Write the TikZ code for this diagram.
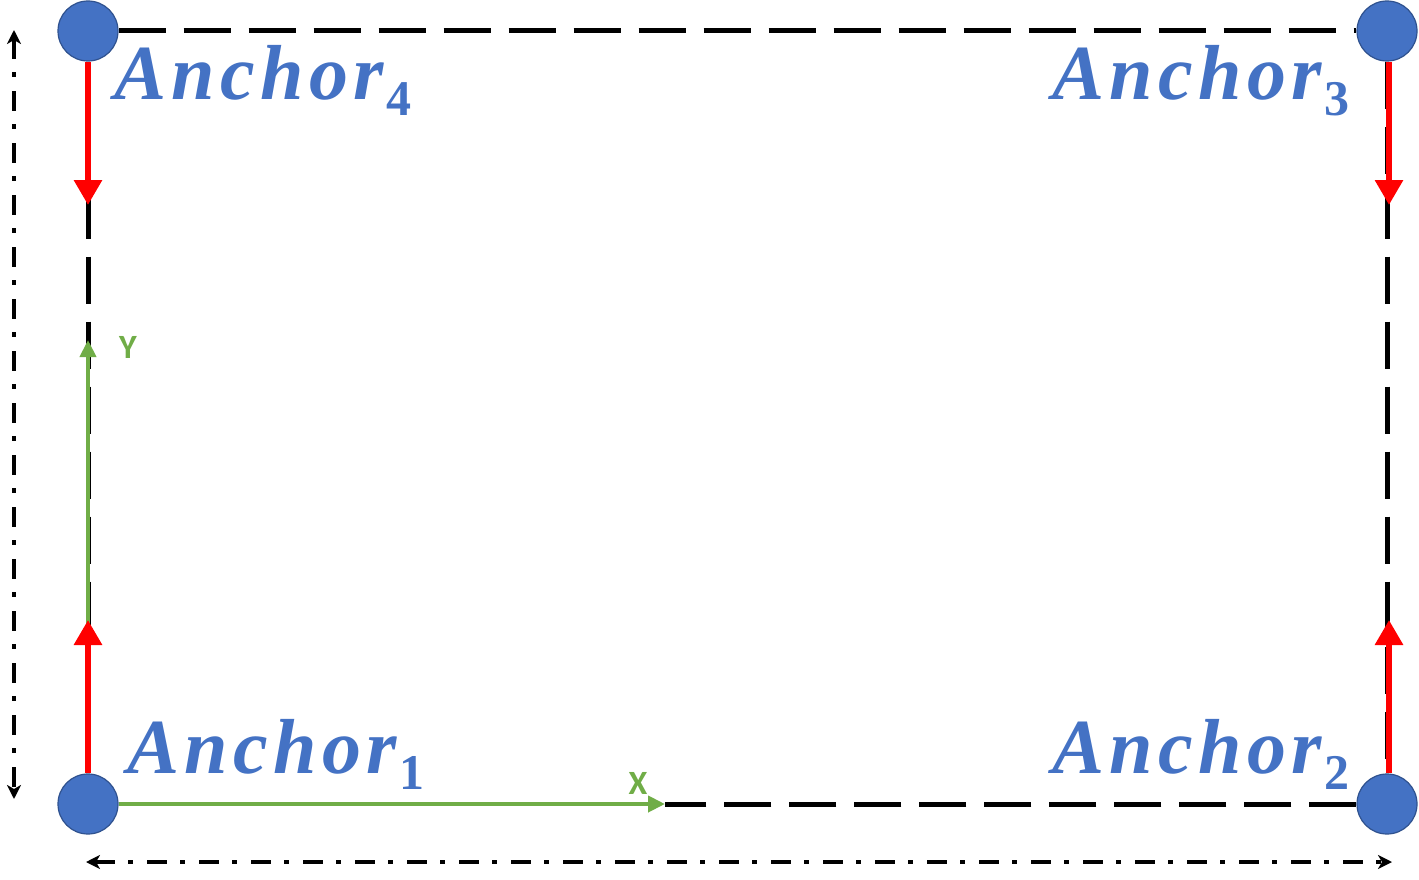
\documentclass[tikz,border=0pt]{standalone}
\usepackage{fontspec}
\setmainfont{Liberation Serif}
\newfontfamily\anchorfont[LetterSpace=7]{Liberation Serif}
\newfontfamily\axfont{Carlito}
\usetikzlibrary{arrows.meta}
\definecolor{ablue}{HTML}{4472C4}
\definecolor{aedge}{HTML}{2F528F}
\definecolor{ared}{HTML}{FF0000}
\definecolor{agreen}{HTML}{70AD47}
\pgfdeclarelayer{bg}
\pgfsetlayers{bg,main}
\tikzset{
  anchorpt/.style={circle, fill=ablue, draw=aedge, line width=1.2pt, minimum size=60pt, inner sep=0pt},
  frame/.style={black, line width=5pt, dash pattern=on 47pt off 18pt},
  redarrow/.style={ared, line width=6pt, -{Triangle[width=27pt,length=25pt]}},
  greenarrow/.style={agreen, line width=4pt, -{Triangle[width=16pt,length=17pt]}},
  dimline/.style={black, line width=4pt, dash pattern=on 20pt off 13pt on 5pt off 14pt, {Stealth[width=14pt,length=14pt,inset=4pt]}-{Stealth[width=14pt,length=14pt,inset=4pt]}},
  lbl/.style={text=ablue, inner sep=0pt, anchor=base west},
  axlbl/.style={text=agreen, inner sep=0pt, font=\axfont\bfseries\fontsize{34}{36}\selectfont}
}
\newcommand{\anchorlbl}[1]{{\anchorfont\fontsize{78}{90}\selectfont\bfseries\itshape Anchor}\hspace{2pt}\raisebox{-16pt}{\fontsize{50}{52}\selectfont\bfseries #1}}
\begin{document}
\begin{tikzpicture}[x=1pt,y=-1pt]
\useasboundingbox (0,0) rectangle (1419,880);
% anchors
\node[anchorpt] (a4) at (88,31) {};
\node[anchorpt] (a3) at (1387,31) {};
\node[anchorpt] (a1) at (88,804) {};
\node[anchorpt] (a2) at (1387,804) {};
\coordinate (xtip) at (665,804);
\coordinate (ytip) at (88,340);
\coordinate (r4) at (88,205);
\coordinate (r3) at (1389,205);
\coordinate (r1) at (88,620);
\coordinate (r2) at (1389,620);
\coordinate (v1) at (14,30);
\coordinate (v2) at (14,799);
\coordinate (h1) at (86,862);
\coordinate (h2) at (1392,862);
\begin{pgfonlayer}{bg}
  \draw[frame] (a4.east) -- (a3.west);
  \draw[frame] (a3.south) -- (a2.north);
  \draw[frame] (a4.south) -- (a1.north);
  \draw[frame] (a2.west) -- (xtip);
  \draw[greenarrow] (a1.east) -- (xtip);
  \draw[greenarrow] (a1.north) -- (ytip);
  \draw[redarrow] (a4.south) -- (r4);
  \draw[redarrow] (a3.south -| r3) -- (r3);
  \draw[redarrow] (a1.north) -- (r1);
  \draw[redarrow] (a2.north -| r2) -- (r2);
\end{pgfonlayer}
\draw[dimline] (v1) -- (v2);
\draw[dimline] (h1) -- (h2);
% labels
\node[lbl] (l4) at (114,100) {\anchorlbl{4}};
\node[lbl] (l3) at (1052,100) {\anchorlbl{3}};
\node[lbl] (l1) at (127,773) {\anchorlbl{1}};
\node[lbl] (l2) at (1052,773) {\anchorlbl{2}};
\node[axlbl] (ylab) at (128,347) {Y};
\node[axlbl] (xlab) at (638,783) {X};
\end{tikzpicture}
\end{document}
